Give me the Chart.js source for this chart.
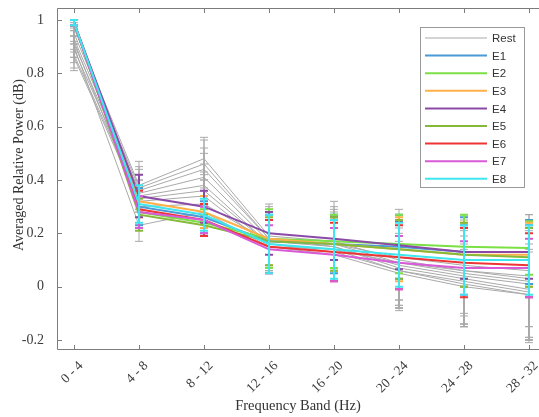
<!DOCTYPE html>
<html>
<head>
<meta charset="utf-8">
<script src="https://cdn.jsdelivr.net/npm/chart.js@4"></script>
<style>
html, body { margin:0; padding:0; background:#fff; }
</style>
</head>
<body>
<canvas id="myChart" width="539" height="417"></canvas>
<script>
// frequency bands (x categories)
var bands = ['0 - 4', '4 - 8', '8 - 12', '12 - 16', '16 - 20', '20 - 24', '24 - 28', '28 - 32'];
var yTicks = [-0.2, 0, 0.2, 0.4, 0.6, 0.8, 1];

// E1..E8 means and errors
var seriesNames = ['E1', 'E2', 'E3', 'E4', 'E5', 'E6', 'E7', 'E8'];
var seriesMeans = [
  [0.99, 0.30, 0.26, 0.17, 0.16, 0.150, 0.13, 0.13],
  [0.99, 0.28, 0.24, 0.18, 0.17, 0.160, 0.15, 0.145],
  [0.99, 0.32, 0.28, 0.18, 0.16, 0.140, 0.12, 0.12],
  [0.99, 0.34, 0.30, 0.20, 0.18, 0.155, 0.13, 0.13],
  [0.99, 0.27, 0.23, 0.17, 0.16, 0.140, 0.12, 0.11],
  [0.99, 0.29, 0.25, 0.15, 0.13, 0.110, 0.09, 0.08],
  [0.99, 0.28, 0.25, 0.14, 0.12, 0.090, 0.07, 0.07],
  [0.99, 0.31, 0.27, 0.16, 0.14, 0.120, 0.10, 0.10]
];
var seriesErrors = [
  [0.01, 0.07, 0.06, 0.10, 0.11, 0.12, 0.13, 0.12],
  [0.01, 0.06, 0.05, 0.11, 0.10, 0.11, 0.12, 0.10],
  [0.01, 0.06, 0.06, 0.10, 0.10, 0.12, 0.12, 0.12],
  [0.01, 0.08, 0.06, 0.08, 0.08, 0.09, 0.10, 0.10],
  [0.01, 0.06, 0.04, 0.09, 0.10, 0.11, 0.12, 0.11],
  [0.01, 0.07, 0.06, 0.10, 0.11, 0.12, 0.13, 0.12],
  [0.01, 0.06, 0.05, 0.09, 0.10, 0.10, 0.10, 0.11],
  [0.01, 0.07, 0.06, 0.11, 0.11, 0.12, 0.13, 0.13]
];

// Rest (gray) means and errors
var restMeans = [
  [0.97, 0.38, 0.48, 0.19, 0.17, 0.10, 0.06, 0.03],
  [0.95, 0.37, 0.46, 0.18, 0.16, 0.09, 0.05, 0.02],
  [0.93, 0.36, 0.44, 0.18, 0.15, 0.08, 0.04, 0.01],
  [0.91, 0.35, 0.41, 0.17, 0.15, 0.07, 0.03, -0.01],
  [0.89, 0.34, 0.38, 0.16, 0.14, 0.06, 0.02, -0.02],
  [0.87, 0.33, 0.36, 0.16, 0.13, 0.06, 0.01, -0.03],
  [0.86, 0.32, 0.34, 0.15, 0.12, 0.05, 0.00, -0.03],
  [0.92, 0.30, 0.31, 0.17, 0.16, 0.11, 0.08, 0.06],
  [0.90, 0.23, 0.28, 0.15, 0.14, 0.09, 0.06, 0.04]
];
var restErrors = [
  [0.03, 0.09, 0.08, 0.12, 0.15, 0.19, 0.21, 0.24],
  [0.04, 0.08, 0.09, 0.11, 0.14, 0.17, 0.20, 0.22],
  [0.04, 0.08, 0.08, 0.12, 0.13, 0.16, 0.18, 0.20],
  [0.05, 0.07, 0.09, 0.10, 0.12, 0.15, 0.18, 0.19],
  [0.05, 0.08, 0.08, 0.11, 0.12, 0.14, 0.17, 0.18],
  [0.05, 0.07, 0.07, 0.10, 0.11, 0.13, 0.15, 0.17],
  [0.05, 0.08, 0.08, 0.10, 0.10, 0.12, 0.14, 0.16],
  [0.04, 0.07, 0.09, 0.11, 0.13, 0.16, 0.19, 0.21],
  [0.04, 0.06, 0.08, 0.10, 0.11, 0.14, 0.16, 0.19]
];

var seriesColors = ['#4a9ad6', '#7be043', '#ffb04a', '#8a4aa6', '#86b93a', '#ee3535', '#d95ad9', '#3fe6f0'];
var restColor = '#a9a9a9';
var axisColor = '#7c7c7c';
var serif = "'Liberation Serif', 'Times New Roman', serif";

function toPoints(arr) {
  return arr.map(function (v, i) { return {x: i, y: v}; });
}

var datasets = [];
restMeans.forEach(function (m, k) {
  datasets.push({
    label: 'Rest',
    data: toPoints(m),
    errors: restErrors[k],
    borderColor: restColor,
    borderWidth: 1,
    pointRadius: 0,
    tension: 0,
    order: 20
  });
});
seriesNames.forEach(function (name, k) {
  datasets.push({
    label: name,
    data: toPoints(seriesMeans[k]),
    errors: seriesErrors[k],
    borderColor: seriesColors[k],
    borderWidth: 2,
    pointRadius: 0,
    tension: 0,
    order: 9 - k
  });
});

// draws vertical error bars with caps for each dataset
var errorBars = {
  id: 'errorBars',
  afterDatasetDraw: function (chart, args) {
    var ds = chart.data.datasets[args.index];
    var yScale = chart.scales.y;
    var ctx = chart.ctx;
    ctx.save();
    ctx.strokeStyle = ds.borderColor;
    ctx.lineWidth = ds.borderWidth;
    args.meta.data.forEach(function (pt, i) {
      var v = ds.data[i].y, e = ds.errors[i];
      var yt = yScale.getPixelForValue(v + e);
      var yb = yScale.getPixelForValue(v - e);
      ctx.beginPath();
      ctx.moveTo(pt.x, yt); ctx.lineTo(pt.x, yb);
      ctx.moveTo(pt.x - 4, yt); ctx.lineTo(pt.x + 4, yt);
      ctx.moveTo(pt.x - 4, yb); ctx.lineTo(pt.x + 4, yb);
      ctx.stroke();
    });
    ctx.restore();
  }
};

// matlab style box with inward ticks
var axesBox = {
  id: 'axesBox',
  beforeDatasetsDraw: function (chart) {
    var a = chart.chartArea, ctx = chart.ctx;
    var xs = chart.scales.x, ys = chart.scales.y;
    ctx.save();
    ctx.strokeStyle = axisColor;
    ctx.lineWidth = 1;
    ctx.beginPath();
    ctx.moveTo(a.right + 10, a.top + 0.5); ctx.lineTo(a.left + 0.5, a.top + 0.5);
    ctx.lineTo(a.left + 0.5, a.bottom - 0.5); ctx.lineTo(a.right + 10, a.bottom - 0.5);
    bands.forEach(function (b, i) {
      var x = Math.round(xs.getPixelForValue(i)) + 0.5;
      ctx.moveTo(x, a.bottom); ctx.lineTo(x, a.bottom - 5);
      ctx.moveTo(x, a.top); ctx.lineTo(x, a.top + 5);
    });
    yTicks.forEach(function (t) {
      var y = Math.round(ys.getPixelForValue(t)) + 0.5;
      ctx.moveTo(a.left, y); ctx.lineTo(a.left + 5, y);
    });
    ctx.stroke();
    ctx.restore();
  }
};

// legend box in the upper right corner
var boxLegend = {
  id: 'boxLegend',
  afterDraw: function (chart) {
    var ctx = chart.ctx;
    var entries = [{label: 'Rest', color: restColor, w: 1}];
    seriesNames.forEach(function (n, k) { entries.push({label: n, color: seriesColors[k], w: 2}); });
    ctx.save();
    ctx.fillStyle = '#fff';
    ctx.fillRect(420.5, 27.5, 104, 160);
    ctx.strokeStyle = '#9a9a9a';
    ctx.lineWidth = 1;
    ctx.strokeRect(420.5, 27.5, 104, 160);
    ctx.font = "11.5px 'Liberation Sans', Arial, sans-serif";
    ctx.textBaseline = 'middle';
    entries.forEach(function (en, i) {
      var y = 38 + i * 17.6;
      ctx.strokeStyle = en.color;
      ctx.lineWidth = en.w;
      ctx.beginPath();
      ctx.moveTo(425, y); ctx.lineTo(487, y);
      ctx.stroke();
      ctx.fillStyle = '#333';
      ctx.fillText(en.label, 492, y + 1);
    });
    ctx.restore();
  }
};

var ctx = document.getElementById('myChart');
var myChart = new Chart(ctx, {
  type: 'line',
  data: { datasets: datasets },
  plugins: [axesBox, errorBars, boxLegend],
  options: {
    responsive: false,
    animation: false,
    layout: { padding: { top: 8, right: 0, left: 0, bottom: 0 } },
    plugins: {
      legend: { display: false },
      tooltip: { enabled: false }
    },
    scales: {
      x: {
        type: 'linear',
        min: -0.262,
        max: 7.154,
        afterBuildTicks: function (s) { s.ticks = bands.map(function (b, i) { return {value: i}; }); },
        afterFit: function (s) { s.height = 67; s.paddingLeft = 0; s.paddingRight = 0; },
        grid: { display: false },
        border: { display: false },
        ticks: {
          autoSkip: false,
          maxRotation: 45,
          minRotation: 45,
          padding: 0,
          labelOffset: 7,
          color: '#3c3c3c',
          font: { family: serif, size: 13.5 },
          callback: function (v) { return bands[v]; }
        },
        title: {
          display: true,
          text: 'Frequency Band (Hz)',
          color: '#333',
          font: { family: serif, size: 14.5 },
          padding: { top: 0, bottom: 2 }
        }
      },
      y: {
        type: 'linear',
        min: -0.2375,
        max: 1.045,
        afterBuildTicks: function (s) { s.ticks = yTicks.map(function (t) { return {value: t}; }); },
        afterFit: function (s) { s.width = 57; s.paddingTop = 0; s.paddingBottom = 0; },
        grid: { display: false },
        border: { display: false },
        ticks: {
          padding: 5,
          color: '#3c3c3c',
          font: { family: serif, size: 14 },
          callback: function (v) { return String(v); }
        },
        title: {
          display: true,
          text: '        Averaged Relative Power (dB)',
          color: '#333',
          font: { family: serif, size: 14 },
          padding: { top: 11, bottom: 0 }
        }
      }
    }
  }
});
</script>
</body>
</html>
